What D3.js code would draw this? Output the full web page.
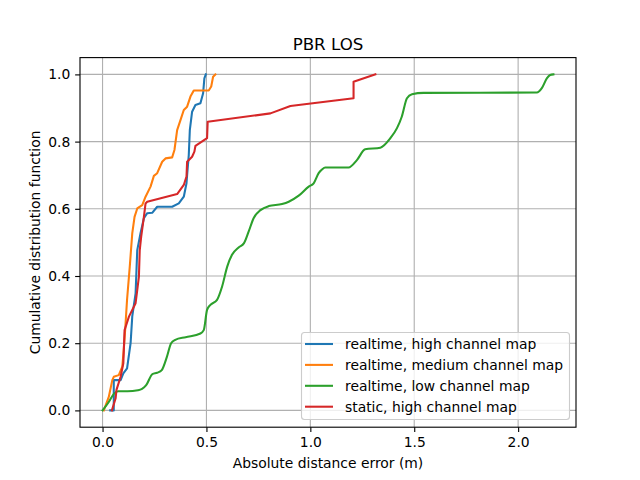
<!DOCTYPE html>
<html>
<head>
<meta charset="utf-8">
<script src="https://cdn.jsdelivr.net/npm/d3@7"></script>
<style>
  body { margin: 0; background: #fff; }
  svg { display: block; font-family: "DejaVu Sans", sans-serif; }
</style>
</head>
<body>
<svg id="chart" width="640" height="480"></svg>
<script>
const title = "PBR LOS";
const xLabel = "Absolute distance error (m)";
const yLabel = "Cumulative distribution function";
const xTicks = [0.0, 0.5, 1.0, 1.5, 2.0];
const yTicks = [0.0, 0.2, 0.4, 0.6, 0.8, 1.0];
const seriesNames = ["realtime, high channel map", "realtime, medium channel map", "realtime, low channel map", "static, high channel map"];
const seriesColors = ["#1f77b4", "#ff7f0e", "#2ca02c", "#d62728"];

// realtime, high channel map
const highX = [0.037, 0.054, 0.054, 0.087, 0.100, 0.118, 0.135, 0.143, 0.159, 0.167, 0.183, 0.199, 0.215, 0.239, 0.263, 0.335, 0.367, 0.391, 0.404, 0.407, 0.415, 0.420, 0.431, 0.447, 0.471, 0.484, 0.490, 0.497];
const highY = [0.000, 0.000, 0.090, 0.090, 0.110, 0.125, 0.200, 0.280, 0.348, 0.477, 0.528, 0.572, 0.587, 0.588, 0.606, 0.606, 0.616, 0.636, 0.676, 0.700, 0.760, 0.834, 0.889, 0.909, 0.914, 0.944, 0.988, 1.000];

// realtime, medium channel map
const medX = [0.006, 0.030, 0.047, 0.054, 0.078, 0.095, 0.102, 0.110, 0.118, 0.131, 0.143, 0.154, 0.167, 0.191, 0.207, 0.231, 0.247, 0.263, 0.287, 0.303, 0.335, 0.346, 0.359, 0.375, 0.391, 0.407, 0.423, 0.439, 0.511, 0.523, 0.532, 0.543];
const medY = [0.000, 0.040, 0.090, 0.100, 0.105, 0.130, 0.180, 0.250, 0.330, 0.428, 0.527, 0.576, 0.601, 0.611, 0.636, 0.666, 0.698, 0.706, 0.740, 0.750, 0.753, 0.775, 0.834, 0.864, 0.894, 0.904, 0.934, 0.952, 0.952, 0.964, 0.993, 1.000];

// realtime, low channel map
const lowX = [0.000, 0.030, 0.055, 0.075, 0.120, 0.170, 0.190, 0.210, 0.240, 0.263, 0.285, 0.310, 0.330, 0.350, 0.400, 0.471, 0.487, 0.503, 0.519, 0.551, 0.575, 0.600, 0.623, 0.655, 0.680, 0.703, 0.727, 0.760, 0.800, 0.864, 0.896, 0.944, 0.992, 1.016, 1.040, 1.056, 1.072, 1.184, 1.224, 1.264, 1.337, 1.385, 1.417, 1.440, 1.465, 1.489, 1.545, 2.090, 2.114, 2.138, 2.154, 2.170];
const lowY = [0.000, 0.025, 0.050, 0.057, 0.057, 0.060, 0.064, 0.075, 0.108, 0.112, 0.120, 0.160, 0.200, 0.210, 0.218, 0.229, 0.239, 0.299, 0.314, 0.329, 0.368, 0.428, 0.463, 0.485, 0.497, 0.532, 0.572, 0.596, 0.608, 0.614, 0.621, 0.639, 0.666, 0.676, 0.706, 0.717, 0.723, 0.723, 0.745, 0.777, 0.782, 0.810, 0.840, 0.874, 0.929, 0.941, 0.945, 0.946, 0.959, 0.988, 0.998, 1.000];

// static, high channel map
const staticX = [0.045, 0.063, 0.067, 0.087, 0.100, 0.106, 0.127, 0.143, 0.159, 0.167, 0.175, 0.179, 0.186, 0.199, 0.207, 0.215, 0.359, 0.391, 0.404, 0.407, 0.431, 0.442, 0.447, 0.503, 0.506, 0.808, 0.904, 1.208, 1.208, 1.313];
const staticY = [0.000, 0.036, 0.061, 0.100, 0.140, 0.239, 0.279, 0.299, 0.319, 0.358, 0.398, 0.477, 0.517, 0.576, 0.616, 0.621, 0.644, 0.671, 0.696, 0.740, 0.755, 0.770, 0.787, 0.810, 0.859, 0.884, 0.906, 0.929, 0.978, 1.000];

const series = [
  { name: seriesNames[0], color: seriesColors[0], xs: highX, ys: highY },
  { name: seriesNames[1], color: seriesColors[1], xs: medX, ys: medY },
  { name: seriesNames[2], color: seriesColors[2], xs: lowX, ys: lowY, smooth: true },
  { name: seriesNames[3], color: seriesColors[3], xs: staticX, ys: staticY }
];

const svg = d3.select("#chart");
const W = 640, H = 480;
const m = { left: 80, right: 576, top: 57.6, bottom: 427.2 };
const FS = 13.89;

const xMax = d3.max(series, s => d3.max(s.xs));
const xMin = d3.min(series, s => d3.min(s.xs));
const xPad = (xMax - xMin) * 0.05;
const x = d3.scaleLinear().domain([xMin - xPad, xMax + xPad]).range([m.left, m.right]);
const y = d3.scaleLinear().domain([-0.05, 1.05]).range([m.bottom, m.top]);

svg.append("rect").attr("width", W).attr("height", H).attr("fill", "#fff");

// grid
const grid = svg.append("g");
grid.selectAll(".gx").data(xTicks).enter().append("line")
  .attr("x1", d => x(d)).attr("x2", d => x(d))
  .attr("y1", m.top).attr("y2", m.bottom)
  .attr("stroke", "#b0b0b0").attr("stroke-width", 1.11);
grid.selectAll(".gy").data(yTicks).enter().append("line")
  .attr("x1", m.left).attr("x2", m.right)
  .attr("y1", d => y(d)).attr("y2", d => y(d))
  .attr("stroke", "#b0b0b0").attr("stroke-width", 1.11);

// lines
svg.append("clipPath").attr("id", "clip").append("rect")
  .attr("x", m.left).attr("y", m.top).attr("width", m.right - m.left).attr("height", m.bottom - m.top);
const plot = svg.append("g").attr("clip-path", "url(#clip)");
series.forEach(s => {
  const pts = s.xs.map((v, i) => [v, s.ys[i]]);
  const line = d3.line().x(d => x(d[0])).y(d => y(d[1]))
    .curve(s.smooth ? d3.curveMonotoneX : d3.curveLinear);
  plot.append("path").datum(pts)
    .attr("d", line)
    .attr("fill", "none")
    .attr("stroke", s.color)
    .attr("stroke-width", 2.08)
    .attr("stroke-linejoin", "round")
    .attr("stroke-linecap", "square");
});

// axes
const xAxis = d3.axisBottom(x).tickValues(xTicks).tickFormat(d3.format(".1f")).tickSizeOuter(0).tickSize(4.86).tickPadding(4.86);
const yAxis = d3.axisLeft(y).tickValues(yTicks).tickFormat(d3.format(".1f")).tickSizeOuter(0).tickSize(4.86).tickPadding(4.86);
const gx = svg.append("g").attr("transform", `translate(0,${m.bottom})`).call(xAxis);
const gy = svg.append("g").attr("transform", `translate(${m.left},0)`).call(yAxis);
[gx, gy].forEach(g => {
  g.select(".domain").remove();
  g.selectAll("line").attr("stroke", "#000").attr("stroke-width", 1.11);
  g.selectAll("text").attr("font-size", FS + "px").attr("fill", "#000").attr("font-family", "DejaVu Sans, sans-serif");
});

// frame
svg.append("rect").attr("x", m.left).attr("y", m.top)
  .attr("width", m.right - m.left).attr("height", m.bottom - m.top)
  .attr("fill", "none").attr("stroke", "#000").attr("stroke-width", 1.11);

// labels
svg.append("text").attr("x", (m.left + m.right) / 2).attr("y", 50)
  .attr("text-anchor", "middle").attr("font-size", "16.67px").text(title);
svg.append("text").attr("x", (m.left + m.right) / 2).attr("y", 468)
  .attr("text-anchor", "middle").attr("font-size", FS + "px").text(xLabel);
svg.append("text").attr("transform", `translate(40,${(m.top + m.bottom) / 2}) rotate(-90)`)
  .attr("text-anchor", "middle").attr("font-size", FS + "px").text(yLabel);

// legend
const lg = svg.append("g");
lg.append("rect").attr("x", 301.5).attr("y", 332.5).attr("width", 268).attr("height", 87)
  .attr("rx", 3).attr("fill", "#fff").attr("fill-opacity", 0.8)
  .attr("stroke", "#cccccc").attr("stroke-width", 1.11);
series.forEach((s, i) => {
  const ly = 344 + i * 20.9;
  lg.append("line").attr("x1", 305).attr("x2", 333).attr("y1", ly).attr("y2", ly)
    .attr("stroke", s.color).attr("stroke-width", 2.08);
  lg.append("text").attr("x", 345).attr("y", ly).attr("dy", "0.35em")
    .attr("font-size", FS + "px").text(s.name);
});
</script>
</body>
</html>
